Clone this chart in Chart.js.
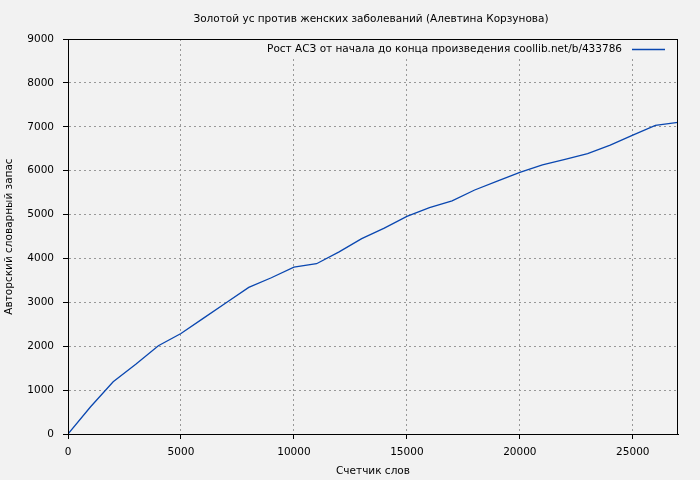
<!DOCTYPE html>
<html>
<head>
<meta charset="utf-8">
<script src="https://cdn.jsdelivr.net/npm/chart.js@4"></script>
<style>
html,body{margin:0;padding:0;background:#f2f2f2;}
#wrap{width:700px;height:480px;position:relative;}
</style>
</head>
<body>
<div id="wrap"><canvas id="c" width="700" height="480"></canvas></div>
<script>
const chartTitle = "Золотой ус против женских заболеваний (Алевтина Корзунова)";
const seriesLabel = "Рост АСЗ от начала до конца произведения coollib.net/b/433786";
const xTitle = "Счетчик слов";
const yTitle = "Авторский словарный запас";
const words = [0,1000,2000,3000,4000,5000,6000,7000,8000,9000,10000,11000,12000,13000,14000,15000,16000,17000,18000,19000,20000,21000,22000,23000,24000,25000,26000,27000];
const vocab = [0,620,1190,1590,2010,2290,2640,2990,3340,3560,3800,3880,4150,4450,4690,4960,5160,5310,5560,5760,5960,6130,6260,6390,6580,6810,7030,7100];
const xTicks = [0,5000,10000,15000,20000,25000];
const yTicks = [0,1000,2000,3000,4000,5000,6000,7000,8000,9000];
const xMax = 27000, yMax = 9000;

const FONT = "'DejaVu Sans', sans-serif";
const FS = 10.5;
const LINE = '#0a47b0';

const overlay = {
  id: 'overlay',
  afterDatasetsDraw(chart) {
    const {ctx, chartArea: a} = chart;
    ctx.save();
    ctx.fillStyle = '#f2f2f2';
    ctx.fillRect(258, a.top + 1, a.right - 259, 17);
    ctx.font = FS + 'px ' + FONT;
    ctx.fillStyle = '#000';
    ctx.textAlign = 'right';
    ctx.textBaseline = 'middle';
    ctx.fillText(seriesLabel, 622, a.top + 10);
    ctx.strokeStyle = LINE;
    ctx.lineWidth = 1.3;
    ctx.beginPath();
    ctx.moveTo(632, a.top + 10.5);
    ctx.lineTo(665, a.top + 10.5);
    ctx.stroke();
    ctx.lineWidth = 1;
    ctx.strokeStyle = '#000';
    ctx.strokeRect(a.left + 0.5, a.top + 0.5, a.right - a.left - 1, a.bottom - a.top);
    ctx.textAlign = 'center';
    ctx.fillText(chartTitle, (a.left + a.right) / 2 - 2, 19);
    ctx.restore();
  }
};

const tickFont = {family: FONT, size: FS};
new Chart(document.getElementById('c'), {
  type: 'line',
  data: {
    datasets: [{
      label: seriesLabel,
      data: words.map((w, i) => ({x: w, y: vocab[i]})),
      borderColor: LINE,
      borderWidth: 1.3,
      pointRadius: 0,
      tension: 0,
      fill: false
    }]
  },
  options: {
    responsive: false,
    animation: false,
    layout: {padding: {left: 0, top: 39, right: 22, bottom: 0}},
    plugins: {legend: {display: false}, title: {display: false}, tooltip: {enabled: false}},
    scales: {
      x: {
        type: 'linear', min: 0, max: xMax,
        afterBuildTicks(s) { s.ticks = xTicks.map(v => ({value: v})); },
        ticks: {color: '#000', font: tickFont, padding: 7, maxRotation: 0, autoSkip: false, callback: v => String(v)},
        grid: {color: '#999999', tickColor: '#000', tickLength: 5, tickBorderDash: []},
        border: {display: true, color: '#000', dash: [2, 3]},
        title: {display: true, text: xTitle, color: '#000', font: tickFont, padding: {top: 4, bottom: 2}},
        afterFit(s) { s.height = 46; }
      },
      y: {
        min: 0, max: yMax,
        afterBuildTicks(s) { s.ticks = yTicks.map(v => ({value: v})); },
        ticks: {color: '#000', font: tickFont, padding: 9, autoSkip: false, callback: v => String(v)},
        grid: {color: '#999999', tickColor: '#000', tickLength: 5, tickBorderDash: []},
        border: {display: true, color: '#000', dash: [2, 3]},
        title: {display: true, text: yTitle, color: '#000', font: tickFont, padding: {top: 3, bottom: 4}},
        afterFit(s) { s.width = 68; }
      }
    }
  },
  plugins: [overlay]
});
</script>
</body>
</html>
